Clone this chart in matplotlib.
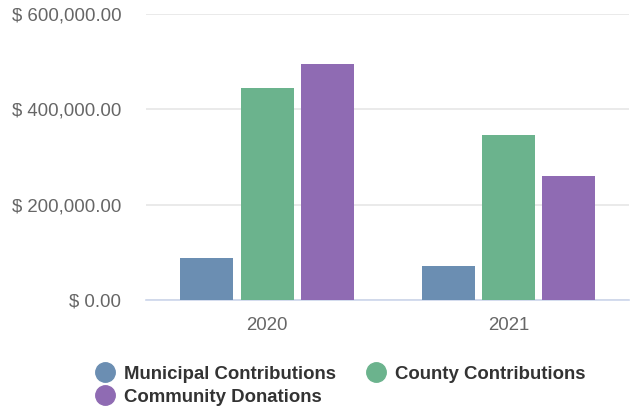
import matplotlib.pyplot as plt
from matplotlib.lines import Line2D
from matplotlib.ticker import FuncFormatter

plt.rcParams['font.family'] = ['Liberation Sans', 'DejaVu Sans']

years = ['2020', '2021']
municipal = [88500, 72000]
county = [444000, 346000]
community = [494000, 260000]

series = [
    ('Municipal Contributions', municipal, '#6b8eb2'),
    ('County Contributions', county, '#6bb38d'),
    ('Community Donations', community, '#8f6bb3'),
]

fig = plt.figure(figsize=(6.31, 4.08), dpi=100)
ax = fig.add_axes([0.232, 0.265, 0.765, 0.701])

width = 0.22
offsets = [-0.25, 0, 0.25]
x = range(len(years))
for (name, vals, color), off in zip(series, offsets):
    ax.bar([i + off for i in x], vals, width=width, color=color, zorder=3)

ax.set_xlim(-0.5, 1.5)
ax.set_ylim(0, 600000)
ax.set_yticks([0, 200000, 400000, 600000])
ax.yaxis.set_major_formatter(FuncFormatter(lambda v, p: f'$ {v:,.2f}'))
ax.set_xticks(list(x))
ax.set_xticklabels(years)

ax.grid(axis='y', color='#e6e6e6', linewidth=1.2, zorder=0)
for s in ['top', 'right', 'left']:
    ax.spines[s].set_visible(False)
ax.spines['bottom'].set_color('#ccd6eb')
ax.spines['bottom'].set_linewidth(1.2)
ax.tick_params(axis='both', length=0, labelsize=13.4, labelcolor='#666666')
ax.tick_params(axis='y', pad=18)
ax.tick_params(axis='x', pad=12)

handles = [Line2D([], [], marker='o', linestyle='none', markersize=14,
                  color=c, label=n) for n, _, c in series]
order = [handles[0], handles[2], handles[1]]
fig.legend(handles=order, loc='lower left', bbox_to_anchor=(0.125, -0.035),
           ncol=2, frameon=False, handletextpad=0.55, columnspacing=1.6,
           labelspacing=0.3, handlelength=1.0,
           prop={'weight': 'bold', 'size': 13.4}, labelcolor='#333333')

fig.savefig('out.png', dpi=100)
